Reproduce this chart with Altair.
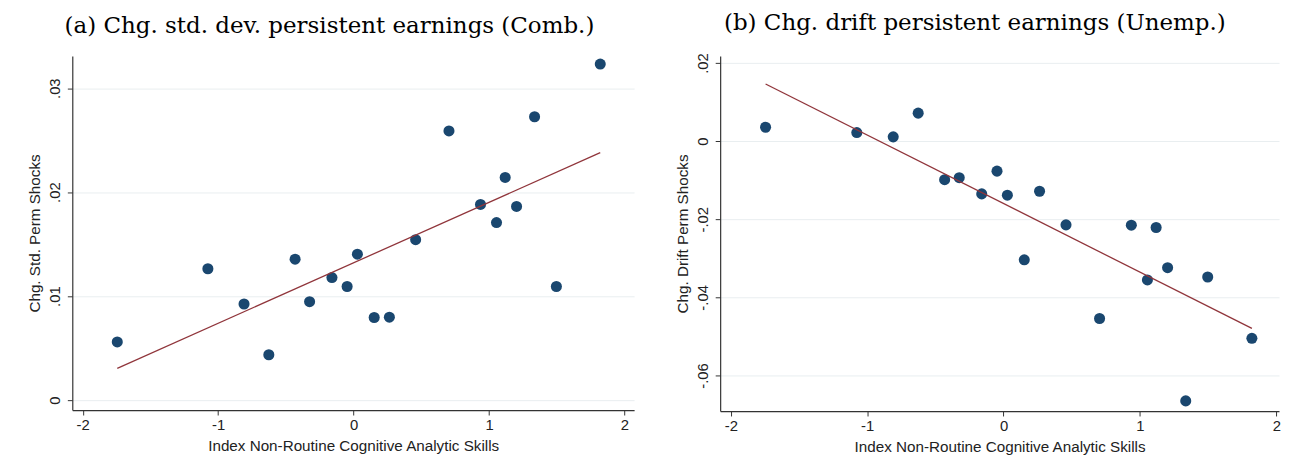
import altair as alt
import pandas as pd

# Index Non-Routine Cognitive Analytic Skills (shared by both panels)
skill_index = [-1.745, -1.076, -0.809, -0.626, -0.432, -0.325, -0.160, -0.048, 0.028, 0.152,
               0.264, 0.458, 0.704, 0.937, 1.055, 1.119, 1.203, 1.336, 1.497, 1.821]
# (a) change in std. dev. of persistent shocks (combined)
chg_std = [0.00560, 0.01264, 0.00925, 0.00437, 0.01356, 0.00947, 0.01179, 0.01093, 0.01404, 0.00795,
           0.00798, 0.01543, 0.02589, 0.01882, 0.01708, 0.02142, 0.01863, 0.02725, 0.01093, 0.03232]
# (b) change in drift of persistent shocks (unemployment)
chg_drift = [0.00354, 0.00218, 0.00109, 0.00716, -0.00987, -0.00937, -0.01351, -0.00769, -0.01385, -0.03038,
             -0.01283, -0.02144, -0.04541, -0.02152, -0.03554, -0.02211, -0.03240, -0.06650, -0.03478, -0.05048]

x_ticks = [-2, -1, 0, 1, 2]
y_ticks_a = [0, 0.01, 0.02, 0.03]
y_ticks_b = [0.02, 0, -0.02, -0.04, -0.06]

x_title = "Index Non-Routine Cognitive Analytic Skills"

DOT = "#1a476f"
LINE = "#90353b"
SANS = "Liberation Sans"
SERIF = "DejaVu Serif"

ylab_expr = "replace(datum.value + '', '0.', '.')"


def panel(yvals, title, ytitle, yticks, xdom, ydom, width, height, dx):
    df = pd.DataFrame({"x": skill_index, "y": yvals})
    xenc = alt.X("x:Q", scale=alt.Scale(domain=xdom, nice=False, zero=False),
                 axis=alt.Axis(values=x_ticks, title=x_title, grid=False,
                               labelExpr="datum.value + ''"))
    yenc = alt.Y("y:Q", scale=alt.Scale(domain=ydom, nice=False, zero=False),
                 axis=alt.Axis(values=yticks, title=ytitle, grid=True,
                               labelAngle=270, labelAlign="center", labelBaseline="bottom",
                               labelExpr=ylab_expr))
    base = alt.Chart(df)
    pts = base.mark_circle(size=125, color=DOT, opacity=1).encode(x=xenc, y=yenc)
    fit = base.transform_regression("x", "y").mark_line(color=LINE, strokeWidth=1.3).encode(
        x="x:Q", y="y:Q")
    return alt.layer(pts, fit).properties(
        width=width, height=height,
        title=alt.TitleParams(title, font=SERIF, fontSize=23.2, fontWeight="normal",
                              color="#000000", anchor="middle", dx=dx, offset=18),
    )


left = panel(chg_std, "(a) Chg. std. dev. persistent earnings (Comb.)", "Chg. Std. Perm Shocks",
             y_ticks_a, [-2.077, 2.071], [-0.00095, 0.0331], 568, 358, -24)
right = panel(chg_drift, "(b) Chg. drift persistent earnings (Unemp.)", "Chg. Drift Perm Shocks",
              y_ticks_b, [-2.078, 2.02], [-0.0691, 0.0218], 565, 359, -25)

chart = alt.hconcat(left, right, spacing=42).properties(
    padding={"left": 20, "top": 0, "right": 0, "bottom": 0},
    background="white",
).configure_view(stroke=None).configure_axis(
    labelFont=SANS, titleFont=SANS, labelFontSize=15, titleFontSize=15.4,
    labelColor="#222222", titleColor="#222222", titleFontWeight="normal",
    domainColor="#333333", tickColor="#333333", tickSize=5, domainWidth=1.2,
    gridColor="#e9eef0", gridWidth=1,
).configure_axisX(labelPadding=3, titlePadding=6).configure_axisY(
    labelPadding=5, titlePadding=5)

chart.save("out.html", embed_options={"renderer": "svg", "actions": False})
